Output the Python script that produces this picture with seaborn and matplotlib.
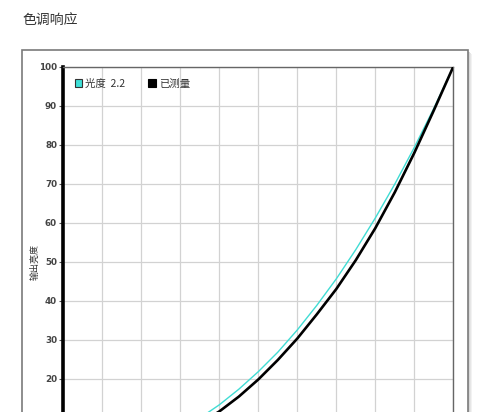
import numpy as np
import pandas as pd
import matplotlib
matplotlib.use("Agg")
import matplotlib.pyplot as plt
from matplotlib.patches import Rectangle, Patch
import seaborn as sns

# ---- data ----
input_levels = [0, 5, 10, 15, 20, 25, 30, 35, 40, 45, 50, 55, 60, 65, 70, 75, 80, 85, 90, 95, 100]
gamma22_values = [0, 0.14, 0.63, 1.5, 2.9, 4.7, 7.1, 9.9, 13.3, 17.3, 21.8, 26.8, 32.5, 38.8, 45.6, 53.1, 61.2, 69.9, 79.3, 89.3, 100]
measured_values = [0, 0.1, 0.45, 1.2, 2.3, 3.9, 5.9, 8.5, 11.6, 15.4, 19.8, 24.8, 30.3, 36.5, 43.0, 50.4, 58.6, 67.8, 77.9, 88.8, 100]
series_names = ["光度  2.2", "已测量"]
y_ticks = [0, 10, 20, 30, 40, 50, 60, 70, 80, 90, 100]
x_ticks = [0, 10, 20, 30, 40, 50, 60, 70, 80, 90, 100]
title_text = "色调响应"
ylabel_text = "输出亮度"

df = pd.DataFrame({
    "x": input_levels * 2,
    "y": gamma22_values + measured_values,
    "series": [series_names[0]] * len(input_levels) + [series_names[1]] * len(input_levels),
})

sns.set_style("white")
plt.rcParams['font.family'] = ['Noto Sans CJK SC', 'DejaVu Sans']

W, H = 500, 412
fig = plt.figure(figsize=(W / 100, H / 100), dpi=100)
fig.patch.set_facecolor("white")

def fx(px):
    return px / W

def fy(py):
    return 1 - py / H

# outer frame with shadow
for i, c in enumerate(["#f2f2f2", "#e6e6e6", "#d9d9d9"]):
    off = 4 - i
    fig.patches.append(Rectangle((fx(22 + off), fy(470)), fx(446), fy(50 + off) - fy(470),
                                 transform=fig.transFigure, facecolor=c, edgecolor="none", zorder=0))
fig.patches.append(Rectangle((fx(22), fy(470)), fx(446), fy(50) - fy(470),
                             transform=fig.transFigure, facecolor="white", edgecolor="#7a7a7a",
                             linewidth=1.2, zorder=1))

fig.text(fx(22), fy(20), title_text, fontsize=10, color="#333333", va="center", ha="left")

left_px, top_px, size_px = 63.3, 66.7, 390
ax = fig.add_axes([fx(left_px), fy(top_px + size_px), size_px / W, size_px / H])
ax.set_zorder(2)
ax.set_facecolor("white")

palette = {series_names[0]: "#40DCD4", series_names[1]: "#000000"}
sns.lineplot(data=df[df.series == series_names[0]], x="x", y="y", color=palette[series_names[0]],
             linewidth=1.0, ax=ax, legend=False, zorder=3)
sns.lineplot(data=df[df.series == series_names[1]], x="x", y="y", color=palette[series_names[1]],
             linewidth=1.9, ax=ax, legend=False, zorder=4)

ax.set_xlim(0, 100)
ax.set_ylim(0, 100)
ax.set_xticks(x_ticks)
ax.set_yticks(y_ticks)
ax.set_xticklabels([])
ax.set_yticklabels([str(v) for v in y_ticks], fontsize=6.3, fontweight="bold", color="#444444",
                   family="DejaVu Sans")
ax.grid(True, color="#d2d2d2", linewidth=0.9)
ax.tick_params(axis="y", length=3, width=0.8, color="#555555", pad=1.5, left=True)
ax.tick_params(axis="x", length=0)
ax.set_xlabel("")
ax.set_ylabel(ylabel_text, fontsize=6.5, color="#333333")
ax.yaxis.set_label_coords((40 - left_px) / size_px, 0.5)

ax.spines["left"].set_color("black")
ax.spines["left"].set_linewidth(2.6)
for s in ["top", "right", "bottom"]:
    ax.spines[s].set_color("#666666")
    ax.spines[s].set_linewidth(1.0)

handles = [Patch(facecolor="#3EE0D8", edgecolor="#333333", linewidth=0.8),
           Patch(facecolor="black", edgecolor="black", linewidth=0.8)]
leg = ax.legend(handles, series_names, loc="upper left",
                bbox_to_anchor=((75 - left_px) / size_px, 1 - (78.5 - top_px) / size_px),
                ncol=2, frameon=False, handlelength=0.7, handleheight=0.7, handletextpad=0.3,
                columnspacing=2.2, fontsize=7.5, borderaxespad=0, borderpad=0)
for t in leg.get_texts():
    t.set_color("#333333")

fig.savefig("out.png", dpi=100)
